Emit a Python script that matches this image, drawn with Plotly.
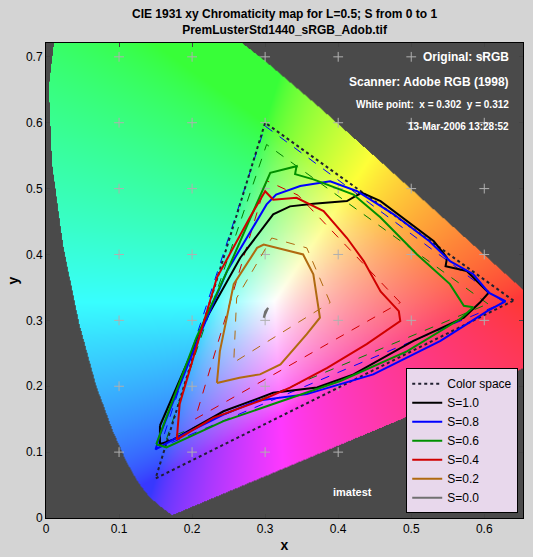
import base64
import struct
import zlib

import numpy as np
import plotly.graph_objects as go

# axis ranges
X_MAX = 0.653
Y_MAX = 0.721
x_ticks = [0, 0.1, 0.2, 0.3, 0.4, 0.5, 0.6]
y_ticks = [0, 0.1, 0.2, 0.3, 0.4, 0.5, 0.6, 0.7]

# CIE 1931 spectral locus (xy)
locus_x = [0.1741, 0.1733, 0.1714, 0.1644, 0.1566, 0.1440, 0.1355, 0.1241, 0.1096, 0.0913,
           0.0687, 0.0454, 0.0235, 0.0082, 0.0039, 0.0139, 0.0389, 0.0743, 0.1142, 0.1547,
           0.2296, 0.3016, 0.3731, 0.4441, 0.5125, 0.5752, 0.6270, 0.6658, 0.6915, 0.7190, 0.7347]
locus_y = [0.0050, 0.0048, 0.0051, 0.0109, 0.0177, 0.0297, 0.0399, 0.0578, 0.0868, 0.1327,
           0.2007, 0.2950, 0.4127, 0.5384, 0.6548, 0.7502, 0.8120, 0.8338, 0.8262, 0.8059,
           0.7543, 0.6923, 0.6245, 0.5547, 0.4866, 0.4242, 0.3725, 0.3340, 0.3083, 0.2809, 0.2653]

# color space (sRGB) triangle
cs_x = [0.64, 0.30, 0.15, 0.64]
cs_y = [0.33, 0.60, 0.06, 0.33]

# measured gamut curves
s10_x = [0.156, 0.220, 0.266, 0.311, 0.334, 0.366, 0.412, 0.432, 0.458, 0.531, 0.549, 0.547, 0.576,
         0.606, 0.594, 0.572, 0.503, 0.421, 0.371, 0.311, 0.243, 0.174, 0.156, 0.156]
s10_y = [0.140, 0.304, 0.395, 0.461, 0.473, 0.477, 0.481, 0.494, 0.481, 0.420, 0.395, 0.382, 0.375,
         0.342, 0.327, 0.304, 0.269, 0.218, 0.198, 0.190, 0.162, 0.119, 0.112, 0.140]
s08_x = [0.156, 0.211, 0.248, 0.302, 0.315, 0.348, 0.389, 0.426, 0.476, 0.525, 0.553, 0.585, 0.606,
         0.629, 0.604, 0.540, 0.448, 0.357, 0.289, 0.243, 0.174, 0.150, 0.156]
s08_y = [0.126, 0.279, 0.375, 0.476, 0.491, 0.504, 0.511, 0.496, 0.461, 0.420, 0.390, 0.370, 0.342,
         0.329, 0.314, 0.269, 0.218, 0.188, 0.178, 0.157, 0.119, 0.104, 0.126]
s06_x = [0.151, 0.206, 0.248, 0.302, 0.307, 0.343, 0.341, 0.366, 0.421, 0.458, 0.508, 0.553, 0.572,
         0.585, 0.567, 0.494, 0.403, 0.311, 0.243, 0.165, 0.151]
s06_y = [0.112, 0.274, 0.375, 0.512, 0.524, 0.534, 0.522, 0.514, 0.491, 0.456, 0.400, 0.355, 0.322,
         0.320, 0.302, 0.253, 0.208, 0.173, 0.147, 0.107, 0.112]
s04_x = [0.179, 0.183, 0.234, 0.279, 0.300, 0.311, 0.343, 0.366, 0.380, 0.412, 0.435, 0.458, 0.483,
         0.485, 0.439, 0.385, 0.334, 0.293, 0.229, 0.179]
s04_y = [0.119, 0.173, 0.365, 0.456, 0.496, 0.483, 0.486, 0.473, 0.466, 0.425, 0.390, 0.344, 0.314,
         0.299, 0.264, 0.228, 0.198, 0.178, 0.152, 0.119]
s02_x = [0.234, 0.238, 0.257, 0.289, 0.298, 0.352, 0.366, 0.375, 0.357, 0.321, 0.293, 0.265, 0.234]
s02_y = [0.205, 0.253, 0.355, 0.410, 0.415, 0.400, 0.370, 0.304, 0.279, 0.233, 0.218, 0.213, 0.205]
s00_x = [0.298, 0.301, 0.302, 0.304, 0.300, 0.298]
s00_y = [0.304, 0.310, 0.314, 0.319, 0.313, 0.304]

# ideal (expected) gamuts, dashed
i08_x = [0.627, 0.300, 0.156, 0.627]
i08_y = [0.327, 0.595, 0.107, 0.327]
i06_x = [0.605, 0.302, 0.165, 0.605]
i06_y = [0.325, 0.567, 0.120, 0.325]
i04_x = [0.485, 0.345, 0.302, 0.204, 0.485]
i04_y = [0.327, 0.490, 0.512, 0.150, 0.327]
i02_x = [0.389, 0.357, 0.309, 0.261, 0.257, 0.389]
i02_y = [0.327, 0.410, 0.425, 0.334, 0.236, 0.327]


def png_uri(rgb):
    h, w, _ = rgb.shape
    raw = b"".join(b"\x00" + rgb[i].tobytes() for i in range(h))

    def chunk(tag, data):
        c = struct.pack(">I", len(data)) + tag + data
        return c + struct.pack(">I", zlib.crc32(tag + data) & 0xFFFFFFFF)

    png = b"\x89PNG\r\n\x1a\n" + chunk(b"IHDR", struct.pack(">IIBBBBB", w, h, 8, 2, 0, 0, 0))
    png += chunk(b"IDAT", zlib.compress(raw, 9)) + chunk(b"IEND", b"")
    return "data:image/png;base64," + base64.b64encode(png).decode()


# chromaticity background image
W, H = 480, 480
gx = (np.arange(W) + 0.5) / W * X_MAX
gy = Y_MAX - (np.arange(H) + 0.5) / H * Y_MAX
XX, YY = np.meshgrid(gx, gy)
px, py = np.array(locus_x), np.array(locus_y)
inside = np.zeros(XX.shape, bool)
n = len(px)
for i in range(n):
    x1, y1, x2, y2 = px[i], py[i], px[(i + 1) % n], py[(i + 1) % n]
    cond = ((y1 > YY) != (y2 > YY))
    xi = x1 + (YY - y1) * (x2 - x1) / (y2 - y1 + 1e-12)
    inside ^= cond & (XX < xi)
Yc = np.maximum(YY, 1e-4)
X = XX / Yc
Z = (1 - XX - YY) / Yc
M = np.array([[3.2406, -1.5372, -0.4986], [-0.9689, 1.8758, 0.0415], [0.0557, -0.2040, 1.0570]])
lin = np.stack([X, np.ones_like(X), Z], -1) @ M.T
lin = np.clip(lin, 0, None)
lin = lin / lin.max(axis=-1, keepdims=True)
lin = 0.04 + 0.96 * lin
srgb = np.where(lin <= 0.0031308, 12.92 * lin, 1.055 * lin ** (1 / 2.4) - 0.055)
img = (np.clip(srgb, 0, 1) * 255).astype(np.uint8)
img[~inside] = [74, 74, 74]

fig = go.Figure()

gxp, gyp = np.meshgrid(x_ticks[1:], y_ticks[1:])
fig.add_trace(go.Scatter(x=gxp.ravel(), y=gyp.ravel(), mode="markers", showlegend=False,
                         hoverinfo="skip",
                         marker=dict(symbol="cross-thin", size=7, line=dict(color="#b0b0b0", width=1))))

for dx, dy, c in [(i08_x, i08_y, "blue"), (i06_x, i06_y, "green"), (i04_x, i04_y, "#d00000"),
                  (i02_x, i02_y, "#b06a10")]:
    fig.add_trace(go.Scatter(x=dx, y=dy, mode="lines", showlegend=False,
                             line=dict(color=c, width=1, dash="dash")))

fig.add_trace(go.Scatter(x=cs_x, y=cs_y, mode="lines", name="Color space",
                         line=dict(color="#202030", width=2, dash="dot")))
for sx, sy, c, name in [(s10_x, s10_y, "black", "S=1.0"), (s08_x, s08_y, "blue", "S=0.8"),
                        (s06_x, s06_y, "#009000", "S=0.6"), (s04_x, s04_y, "#d00000", "S=0.4"),
                        (s02_x, s02_y, "#b06a10", "S=0.2"), (s00_x, s00_y, "#707070", "S=0.0")]:
    fig.add_trace(go.Scatter(x=sx, y=sy, mode="lines", name=name, line=dict(color=c, width=2)))

fig.add_layout_image(dict(source=png_uri(img), xref="x", yref="y", x=0, y=Y_MAX,
                          sizex=X_MAX, sizey=Y_MAX, sizing="stretch", layer="below"))

notes = [("Original: sRGB", 12, 0.700), ("Scanner: Adobe RGB (1998)", 12, 0.662),
         ("White point:  x = 0.302  y = 0.312", 10, 0.627), ("13-Mar-2006 13:28:52", 10, 0.595)]
for txt, sz, ya in notes:
    fig.add_annotation(x=0.975, y=ya, xref="paper", yref="y", text="<b>%s</b>" % txt, showarrow=False,
                       xanchor="right", font=dict(color="white", size=sz, family="Arial"))
fig.add_annotation(x=0.42, y=0.04, xref="x", yref="y", text="<b>imatest</b>", showarrow=False,
                   font=dict(color="white", size=11, family="Arial"))
fig.add_annotation(x=0.5, y=1, xref="paper", yref="paper", yanchor="bottom", yshift=4, showarrow=False,
                   text="<b>CIE 1931 xy Chromaticity map for L=0.5; S from 0 to 1<br>"
                        "PremLusterStd1440_sRGB_Adob.tif</b>",
                   font=dict(size=12, color="black", family="Arial"))

fig.update_layout(
    width=533, height=557,
    margin=dict(l=46, r=10, t=43, b=39),
    paper_bgcolor="#d4d4d4", plot_bgcolor="#4a4a4a",
    font=dict(family="Arial", size=12, color="black"),
    legend=dict(x=0.99, y=0.01, xanchor="right", yanchor="bottom", bgcolor="#e8d8ec",
                bordercolor="black", borderwidth=1, font=dict(size=12), tracegroupgap=0),
    showlegend=True,
)
fig.update_xaxes(range=[0, X_MAX], tickvals=x_ticks, ticktext=[str(v) for v in x_ticks],
                 showgrid=False, zeroline=False, ticks="inside", ticklen=4, automargin=False,
                 title=dict(text="<b>x</b>", standoff=4), showline=True, linecolor="black", mirror="ticks")
fig.update_yaxes(range=[0, Y_MAX], tickvals=y_ticks, ticktext=[str(v) for v in y_ticks],
                 showgrid=False, zeroline=False, ticks="inside", ticklen=4, automargin=False,
                 title=dict(text="<b>y</b>", standoff=4), showline=True, linecolor="black", mirror="ticks")

fig.write_html("out.html", config={"displayModeBar": False},
               post_script="document.body.style.margin='0';document.body.style.background='#d4d4d4';")
